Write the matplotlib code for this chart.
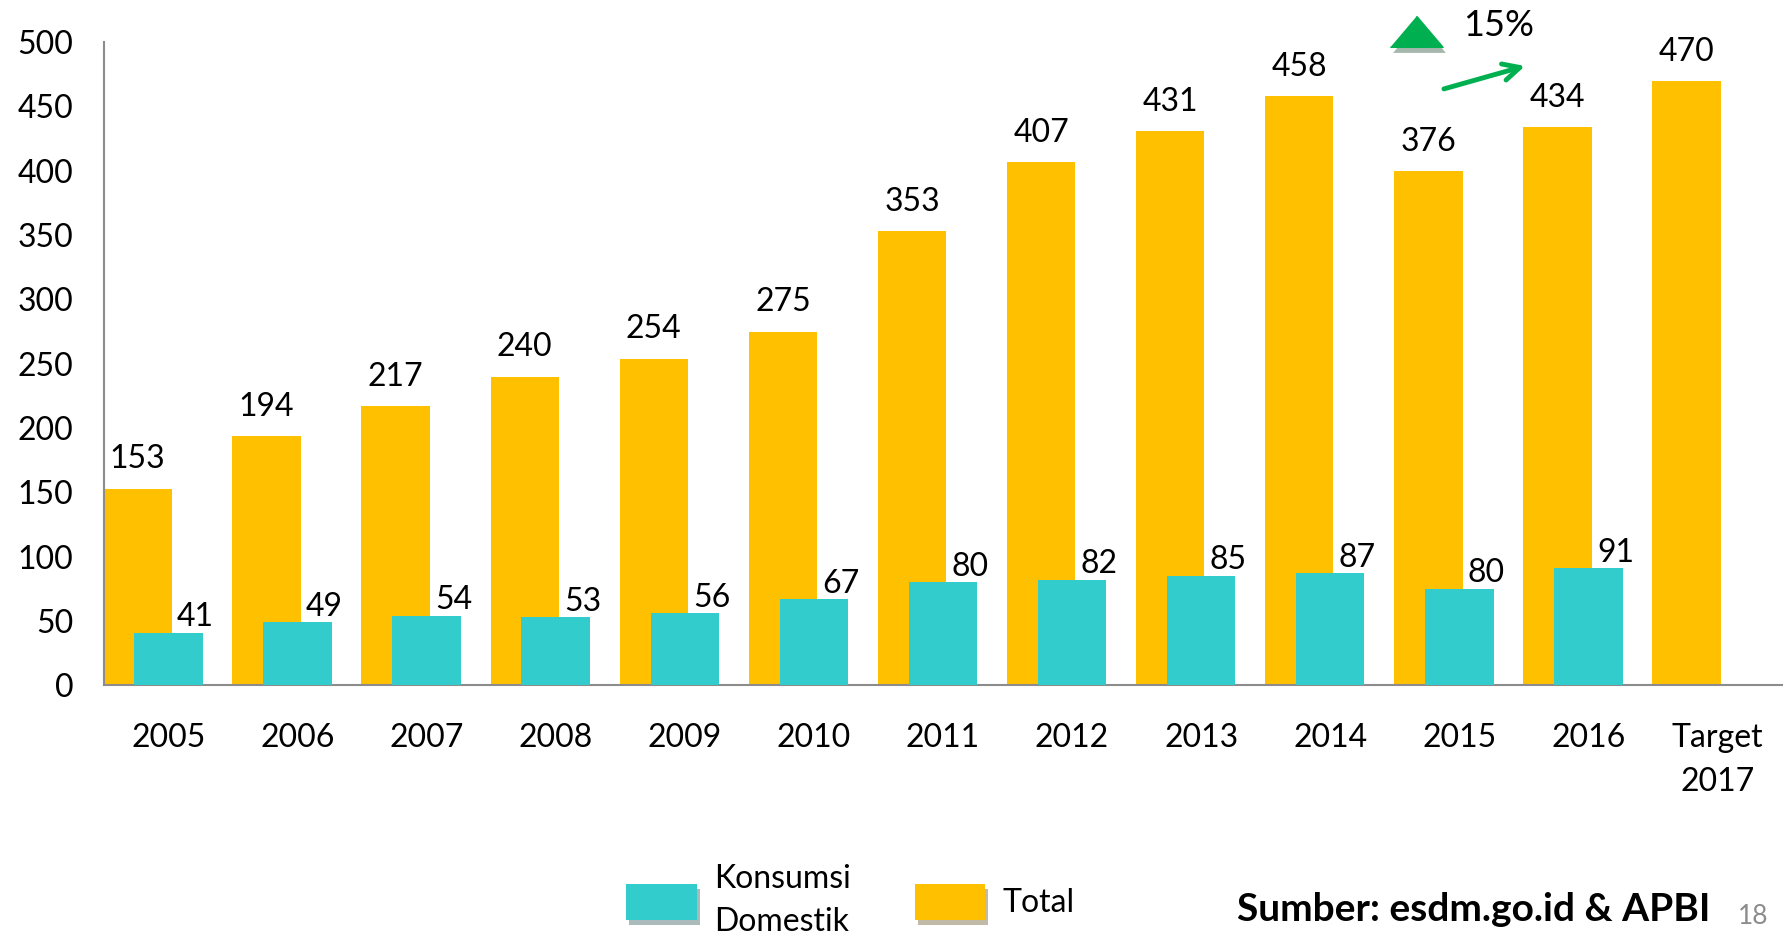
import numpy as np
import matplotlib
matplotlib.use('Agg')
from matplotlib import pyplot as plt
from matplotlib import patheffects as pe
from matplotlib.patches import Patch

plt.rcParams['font.family'] = ['Lato', 'DejaVu Sans']

# data
years = ['2005', '2006', '2007', '2008', '2009', '2010', '2011',
         '2012', '2013', '2014', '2015', '2016', 'Target\n2017']
total = [153, 194, 217, 240, 254, 275, 353, 407, 431, 458, 400, 434, 470]
total_labels = ['153', '194', '217', '240', '254', '275', '353',
                '407', '431', '458', '376', '434', '470']
domestik = [41, 49, 54, 53, 56, 67, 80, 82, 85, 87, 75, 91]
domestik_labels = ['41', '49', '54', '53', '56', '67', '80',
                   '82', '85', '87', '80', '91']
growth_label = '15%'

YELLOW = '#FFC000'
TEAL = '#33CCCC'
GREEN = '#00B050'
FS = 23

fig = plt.figure(figsize=(17.91, 9.35), dpi=100)
ax = fig.add_axes([0.058, 0.267, 0.937, 0.688])

x = np.arange(len(years))
w = 0.53
shift = 0.24

ax.bar(x - shift, total, w, color=YELLOW, zorder=2, label='Total')
ax.bar(x[:len(domestik)], domestik, w, color=TEAL, zorder=3,
       label='Konsumsi\nDomestik')

for i, v in enumerate(total):
    ax.text(x[i] - shift, v + 11, total_labels[i], ha='center', va='bottom',
            fontsize=FS, zorder=4)
for i, v in enumerate(domestik):
    ax.text(x[i] + 0.21, v + 0.5, domestik_labels[i], ha='center',
            va='bottom', fontsize=FS, zorder=4)

ax.set_xlim(-0.5, len(years) - 0.5)
ax.set_ylim(0, 500)
ax.set_yticks(np.arange(0, 501, 50))
ax.set_xticks(x)
ax.set_xticklabels(years, fontsize=FS, linespacing=1.6)
ax.tick_params(axis='y', labelsize=FS, length=0, pad=22)
ax.tick_params(axis='x', length=0, pad=27)
for s in ['top', 'right']:
    ax.spines[s].set_visible(False)
for s in ['left', 'bottom']:
    ax.spines[s].set_color('#8c8c8c')
    ax.spines[s].set_linewidth(1.5)

shadow = [pe.SimplePatchShadow(offset=(2, -4), alpha=0.35), pe.Normal()]

# growth annotation
tri = [(-1, -0.59), (1, -0.59), (0, 0.59)]
ax.plot([9.67], [508], marker=tri, markersize=38, color=GREEN, clip_on=False,
        zorder=5, linestyle='none', path_effects=shadow)
ax.text(10.3, 513, growth_label, ha='center', va='center', fontsize=26,
        clip_on=False)
ax.annotate('', xy=(10.53, 482), xytext=(9.86, 463),
            arrowprops=dict(arrowstyle='->', color=GREEN, lw=3.5,
                            mutation_scale=30),
            annotation_clip=False)

# legend
handles = [Patch(facecolor=TEAL), Patch(facecolor=YELLOW)]
labels = ['Konsumsi\nDomestik', 'Total']
leg = fig.legend(handles, labels, loc='center', bbox_to_anchor=(0.475, 0.037),
                 ncol=2, frameon=False, fontsize=FS, handlelength=2.2,
                 handleheight=1.35, handletextpad=0.55, columnspacing=2.0)
for t in leg.get_texts():
    t.set_linespacing(1.55)
for h in leg.legend_handles:
    h.set_path_effects(shadow)

fig.text(0.8227, 0.027, 'Sumber: esdm.go.id & APBI', ha='center',
         va='center', fontsize=28, fontweight='bold')
fig.text(0.979, 0.02, '18', ha='center', va='center', fontsize=19,
         color='#8c8c8c')

fig.savefig('out.png', dpi=100)
